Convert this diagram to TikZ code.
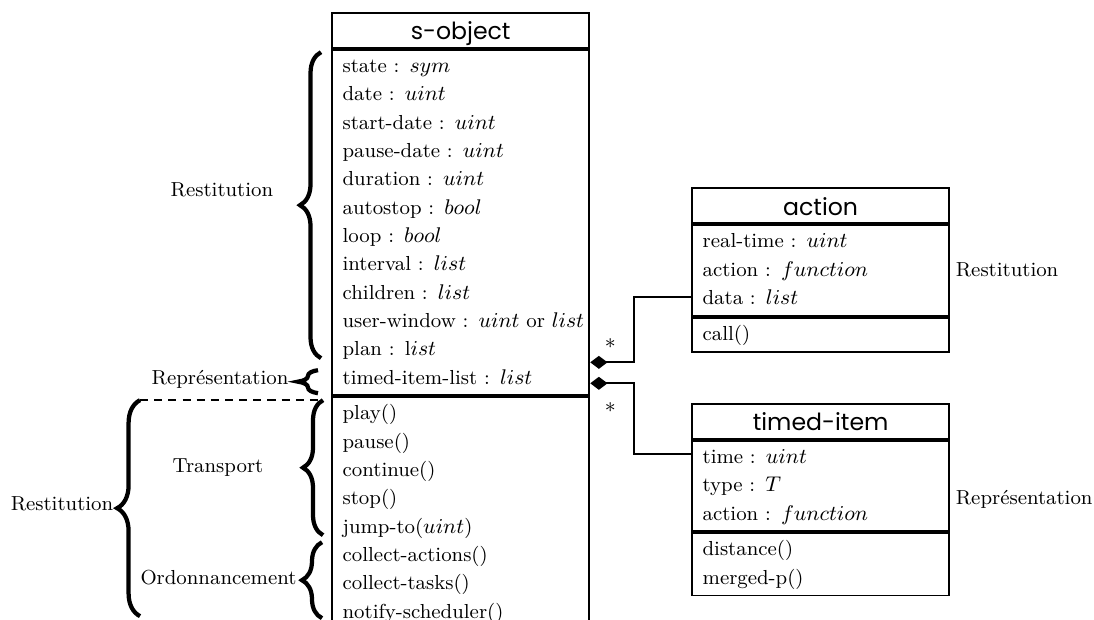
\documentclass[tikz,border=0pt]{standalone}
\usepackage{fontspec}
\newfontfamily\classfont{Poppins}
\newcommand{\umlsize}{\fontsize{8.6}{12}\selectfont}
\usetikzlibrary{positioning,calc,arrows.meta,decorations.pathreplacing}
\tikzset{every picture/.style={thick},
  classname/.style={draw, text width=100pt, inner xsep=4.5pt, inner ysep=1pt,
    minimum height=14.8pt, text height=9pt, text depth=1pt, align=center,
    font=\classfont\fontsize{10}{12}\selectfont},
  classpart/.style={draw, text width=100pt, inner xsep=4.5pt, inner ysep=1.2pt, align=left,
    execute at begin node=\strut, execute at end node=\strut},
  aggreg/.style={{Diamond[length=7.3pt,width=5.5pt]}-},
  bracket/.style={decorate, decoration={brace, amplitude=#1}, line width=1.8pt},
  bracket/.default=8.5pt}

\begin{document}
\begin{tikzpicture}[font=\umlsize]
  \useasboundingbox (0,0) rectangle (16.29,9.22);
  % s-object
  \node[classname, anchor=north west] (so) at (4.93,9.04) {s-object};
  \node[classpart, below=0pt of so] (soattr) {state : $sym$\\ date : $uint$\\ start-date : $uint$\\
    pause-date : $uint$\\ duration : $uint$\\ autostop : $bool$\\ loop : $bool$\\ interval : $list$\\
    children : $list$\\ \mbox{user-window : $uint$ or $list$}\\ plan : l$ist$\\ timed-item-list : $list$};
  \node[classpart, below=0pt of soattr] (someth) {play()\\ pause()\\ continue()\\ stop()\\
    jump-to($uint$)\\ collect-actions()\\ collect-tasks()\\ notify-scheduler()};
  % action
  \node[classname, anchor=north west] (act) at (10.29,6.43) {action};
  \node[classpart, below=0pt of act] (actattr) {real-time : $uint$\\ action : $function$\\ data : $list$};
  \node[classpart, below=0pt of actattr] (actmeth) {call()};
  \node[anchor=west, inner xsep=2pt] (actlbl) at ($(act.north east)!0.5!(actmeth.south east)$) {Restitution};
  % timed-item
  \node[classname, anchor=north west] (ti) at (10.29,3.22) {timed-item};
  \node[classpart, below=0pt of ti] (tiattr) {time : $uint$\\ type : $T$\\ action : $function$};
  \node[classpart, below=0pt of tiattr] (timeth) {distance()\\ merged-p()};
  \node[anchor=west, inner xsep=2pt] (tilbl) at ($(ti.north east)!0.5!(timeth.south east)$) {Représentation};
  % compositions
  \draw[aggreg] ($(soattr.south east)+(0,0.506)$) -- ++(0.655,0) |- ($(actattr.south west)+(0,0.298)$);
  \draw[aggreg] ($(soattr.south east)+(0,0.194)$) -- ++(0.655,0) |- ($(tiattr.north west)+(0,-0.208)$);
  \node (mult1) at ($(soattr.south east)+(0.298,0.789)$) {$*$};
  \node (mult2) at ($(soattr.south east)+(0.298,-0.164)$) {$*$};
  % braces
  \coordinate (trtop) at (4.81,3.261);
  \coordinate (rstop) at (2.085,3.261);
  \draw[bracket=8.9pt] (4.78,3.886) -- (4.78,8.443);
  \draw[bracket] (4.735,3.365) -- (4.735,3.708);
  \draw[bracket] (4.81,1.251) -- (trtop);
  \draw[bracket] (4.795,0.015) -- (4.795,1.146);
  \draw[bracket=9.7pt] (2.085,0.045) -- (rstop);
  \draw[dashed, dash pattern=on 3.4pt off 2.6pt] (rstop) -- (trtop);
  \node (rs1) at (3.305,6.388) {Restitution};
  \node (rep) at (3.276,3.574) {Représentation};
  \node (trans) at (3.246,2.263) {Transport};
  \node (ordo) at (3.253,0.625) {Ordonnancement};
  \node (rs2) at (0.923,1.712) {Restitution};
\end{tikzpicture}
\end{document}
